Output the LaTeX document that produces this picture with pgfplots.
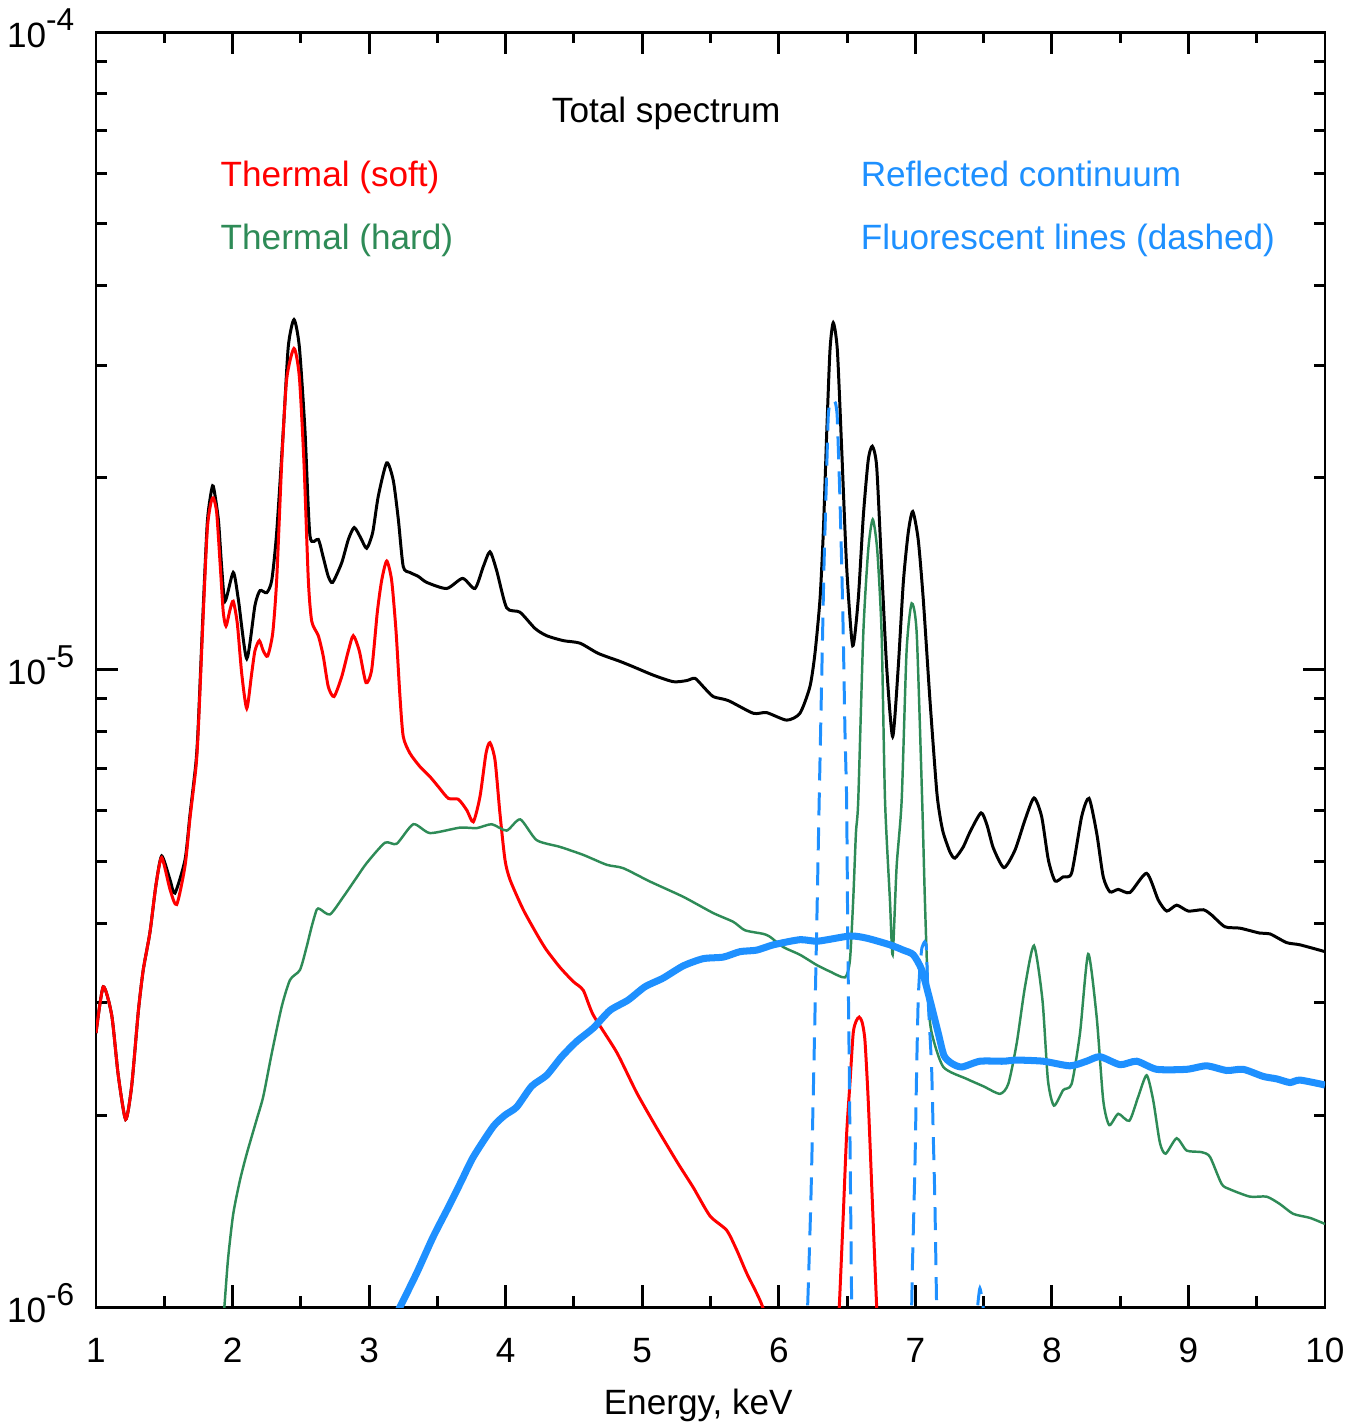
\documentclass[border=0pt]{standalone}
\usepackage{fontspec}
\setmainfont{Liberation Sans}
\usepackage{pgfplots}
\pgfplotsset{compat=1.18}
\definecolor{thgreen}{RGB}{46,139,87}
\definecolor{refblue}{RGB}{30,144,255}
\newcommand{\tensup}[1]{10\raisebox{4.8pt}{\fontsize{9}{10}\selectfont -#1}}
\begin{document}
\begin{tikzpicture}
\path[use as bounding box] (-9.6mm,-11.6mm) rectangle (126.6mm,130.7mm);
\begin{axis}[
  scale only axis, width=122.9mm, height=127.5mm,
  xmin=1, xmax=10, ymin=1e-6, ymax=1e-4, ymode=log,
  xtick={1,...,10}, minor xtick={1.5,2.5,...,9.5},
  ytick={1e-6,1e-5,1e-4},
  yticklabels={\tensup{6},\tensup{5},\tensup{4}},
  minor ytick={2e-6,3e-6,4e-6,5e-6,6e-6,7e-6,8e-6,9e-6,2e-5,3e-5,4e-5,5e-5,6e-5,7e-5,8e-5,9e-5},
  tick align=inside, tick pos=both,
  major tick length=2.2mm, minor tick length=1.1mm,
  every tick/.style={black, line width=0.85pt},
  axis line style={line width=0.85pt},
  /pgf/number format/assume math mode=true,
  tick label style={font=\fontsize{10}{12}\selectfont},
  xticklabel style={anchor=base, inner sep=0pt, yshift=-5.55mm},
  yticklabel style={anchor=base east, inner sep=0pt, xshift=-2.1mm, yshift=-1.5mm},
  xlabel={Energy, keV},
  xlabel style={font=\fontsize{10}{12}\selectfont, at={(axis description cs:0.49,0)}, anchor=base, inner sep=0pt, yshift=-10.75mm},
]
% total spectrum
\addplot[black, line width=0.85pt, smooth, tension=0.4] coordinates {
(1.000,2.69e-6) (1.053,3.18e-6) (1.115,2.87e-6) (1.163,2.31e-6) (1.217,1.97e-6) (1.261,2.22e-6) (1.310,2.91e-6) (1.346,3.38e-6) (1.395,3.87e-6) (1.439,4.59e-6) (1.481,5.10e-6) (1.542,4.68e-6) (1.578,4.46e-6) (1.652,5.03e-6) (1.688,5.91e-6) (1.732,7.15e-6) (1.749,8.2e-6) (1.786,1.26e-5) (1.815,1.70e-5) (1.840,1.88e-5) (1.859,1.94e-5) (1.896,1.72e-5) (1.920,1.45e-5) (1.945,1.28e-5) (2.005,1.42e-5) (2.042,1.29e-5) (2.104,1.04e-5) (2.164,1.26e-5) (2.201,1.33e-5) (2.250,1.32e-5) (2.287,1.38e-5) (2.323,1.64e-5) (2.372,2.38e-5) (2.408,3.21e-5) (2.450,3.54e-5) (2.489,3.21e-5) (2.530,2.38e-5) (2.567,1.62e-5) (2.628,1.60e-5) (2.664,1.50e-5) (2.701,1.40e-5) (2.733,1.37e-5) (2.799,1.47e-5) (2.848,1.60e-5) (2.891,1.67e-5) (2.938,1.61e-5) (2.982,1.55e-5) (3.026,1.64e-5) (3.067,1.87e-5) (3.129,2.11e-5) (3.177,1.98e-5) (3.214,1.72e-5) (3.250,1.45e-5) (3.299,1.42e-5) (3.360,1.40e-5) (3.422,1.37e-5) (3.568,1.34e-5) (3.685,1.39e-5) (3.775,1.34e-5) (3.836,1.45e-5) (3.885,1.53e-5) (3.934,1.43e-5) (4.007,1.25e-5) (4.105,1.23e-5) (4.215,1.16e-5) (4.300,1.13e-5) (4.422,1.11e-5) (4.544,1.10e-5) (4.678,1.06e-5) (4.837,1.03e-5) (4.935,1.01e-5) (5.081,9.80e-6) (5.228,9.57e-6) (5.326,9.61e-6) (5.386,9.69e-6) (5.447,9.40e-6) (5.520,9.07e-6) (5.630,8.94e-6) (5.813,8.54e-6) (5.911,8.56e-6) (6.058,8.33e-6) (6.155,8.54e-6) (6.228,9.40e-6) (6.265,1.06e-5) (6.302,1.29e-5) (6.326,1.64e-5) (6.351,2.35e-5) (6.375,3.17e-5) (6.399,3.50e-5) (6.429,3.17e-5) (6.461,2.21e-5) (6.497,1.45e-5) (6.541,1.09e-5) (6.582,1.29e-5) (6.619,1.74e-5) (6.655,2.13e-5) (6.685,2.24e-5) (6.717,2.08e-5) (6.753,1.45e-5) (6.790,1.01e-5) (6.834,7.85e-6) (6.875,1.01e-5) (6.912,1.37e-5) (6.948,1.64e-5) (6.981,1.77e-5) (7.021,1.60e-5) (7.058,1.29e-5) (7.107,8.96e-6) (7.156,6.47e-6) (7.181,5.88e-6) (7.205,5.54e-6) (7.254,5.17e-6) (7.290,5.06e-6) (7.351,5.27e-6) (7.400,5.56e-6) (7.481,5.96e-6) (7.525,5.70e-6) (7.571,5.25e-6) (7.649,4.89e-6) (7.730,5.21e-6) (7.803,5.81e-6) (7.869,6.29e-6) (7.925,5.88e-6) (7.974,5.03e-6) (8.023,4.66e-6) (8.083,4.73e-6) (8.145,4.80e-6) (8.218,5.88e-6) (8.272,6.28e-6) (8.328,5.54e-6) (8.376,4.73e-6) (8.425,4.48e-6) (8.486,4.52e-6) (8.572,4.47e-6) (8.694,4.79e-6) (8.779,4.35e-6) (8.841,4.18e-6) (8.914,4.27e-6) (8.999,4.18e-6) (9.109,4.20e-6) (9.170,4.12e-6) (9.267,3.95e-6) (9.377,3.93e-6) (9.524,3.86e-6) (9.597,3.85e-6) (9.719,3.73e-6) (9.817,3.70e-6) (10.000,3.61e-6)
};
% thermal soft
\addplot[red, line width=0.85pt, smooth, tension=0.4] coordinates {
(1.000,2.69e-6) (1.053,3.18e-6) (1.115,2.87e-6) (1.163,2.31e-6) (1.217,1.97e-6) (1.261,2.22e-6) (1.310,2.91e-6) (1.346,3.38e-6) (1.395,3.87e-6) (1.439,4.59e-6) (1.481,5.07e-6) (1.542,4.52e-6) (1.591,4.28e-6) (1.652,4.92e-6) (1.688,5.84e-6) (1.732,7.03e-6) (1.749,8.04e-6) (1.786,1.23e-5) (1.815,1.66e-5) (1.840,1.82e-5) (1.859,1.86e-5) (1.884,1.76e-5) (1.913,1.42e-5) (1.932,1.23e-5) (1.952,1.17e-5) (1.981,1.24e-5) (2.005,1.28e-5) (2.035,1.18e-5) (2.067,9.86e-6) (2.104,8.69e-6) (2.140,9.86e-6) (2.164,1.07e-5) (2.196,1.11e-5) (2.225,1.07e-5) (2.257,1.05e-5) (2.294,1.14e-5) (2.323,1.38e-5) (2.360,2.11e-5) (2.396,2.85e-5) (2.450,3.19e-5) (2.489,2.88e-5) (2.523,2.11e-5) (2.555,1.38e-5) (2.580,1.19e-5) (2.628,1.13e-5) (2.664,1.05e-5) (2.701,9.40e-6) (2.743,9.07e-6) (2.799,9.74e-6) (2.848,1.07e-5) (2.884,1.13e-5) (2.928,1.07e-5) (2.977,9.54e-6) (3.019,1.00e-5) (3.060,1.23e-5) (3.092,1.38e-5) (3.129,1.48e-5) (3.165,1.38e-5) (3.197,1.15e-5) (3.226,9.07e-6) (3.250,7.85e-6) (3.299,7.39e-6) (3.373,7.04e-6) (3.446,6.79e-6) (3.507,6.55e-6) (3.580,6.28e-6) (3.653,6.26e-6) (3.715,6.02e-6) (3.763,5.77e-6) (3.812,6.32e-6) (3.856,7.39e-6) (3.885,7.68e-6) (3.922,7.21e-6) (3.958,5.95e-6) (3.995,5.03e-6) (4.032,4.68e-6) (4.129,4.20e-6) (4.239,3.81e-6) (4.300,3.63e-6) (4.398,3.41e-6) (4.495,3.24e-6) (4.568,3.14e-6) (4.642,2.87e-6) (4.813,2.51e-6) (4.959,2.17e-6) (5.106,1.91e-6) (5.262,1.68e-6) (5.374,1.54e-6) (5.496,1.39e-6) (5.618,1.32e-6) (5.691,1.23e-6) (5.765,1.13e-6) (5.882,1.00e-6) (5.950,8.5e-7)
};
\addplot[red, line width=0.85pt, smooth, tension=0.4] coordinates {
(6.430,9.0e-7) (6.443,1.0e-6) (6.472,1.39e-6) (6.497,1.87e-6) (6.521,2.24e-6) (6.545,2.69e-6) (6.567,2.81e-6) (6.589,2.85e-6) (6.610,2.80e-6) (6.631,2.62e-6) (6.655,2.11e-6) (6.680,1.56e-6) (6.717,1.0e-6) (6.730,9.0e-7)
};
% thermal hard
\addplot[thgreen, line width=0.7pt, smooth, tension=0.4] coordinates {
(1.915,8.56e-7) (1.940,1.00e-6) (1.967,1.19e-6) (2.005,1.40e-6) (2.054,1.58e-6) (2.104,1.74e-6) (2.177,1.97e-6) (2.225,2.14e-6) (2.287,2.50e-6) (2.360,2.96e-6) (2.421,3.26e-6) (2.494,3.38e-6) (2.542,3.67e-6) (2.579,3.95e-6) (2.616,4.20e-6) (2.640,4.21e-6) (2.714,4.13e-6) (2.811,4.40e-6) (2.909,4.72e-6) (2.982,4.97e-6) (3.116,5.35e-6) (3.202,5.33e-6) (3.324,5.72e-6) (3.446,5.54e-6) (3.665,5.65e-6) (3.788,5.64e-6) (3.898,5.72e-6) (4.007,5.59e-6) (4.107,5.82e-6) (4.227,5.40e-6) (4.398,5.27e-6) (4.568,5.12e-6) (4.740,4.94e-6) (4.861,4.88e-6) (5.057,4.65e-6) (5.301,4.40e-6) (5.520,4.15e-6) (5.667,4.02e-6) (5.752,3.90e-6) (5.886,3.85e-6) (5.935,3.81e-6) (6.033,3.67e-6) (6.155,3.57e-6) (6.278,3.44e-6) (6.375,3.36e-6) (6.485,3.29e-6) (6.521,3.50e-6) (6.545,4.35e-6) (6.565,5.54e-6) (6.582,6.24e-6) (6.619,1.14e-5) (6.655,1.54e-5) (6.688,1.72e-5) (6.721,1.54e-5) (6.753,1.14e-5) (6.778,6.24e-6) (6.814,4.35e-6) (6.834,3.57e-6) (6.863,4.91e-6) (6.900,6.24e-6) (6.936,1.07e-5) (6.973,1.27e-5) (7.010,1.14e-5) (7.050,6.24e-6) (7.070,4.35e-6) (7.095,3.03e-6) (7.120,2.69e-6) (7.205,2.38e-6) (7.376,2.28e-6) (7.498,2.22e-6) (7.620,2.16e-6) (7.681,2.24e-6) (7.742,2.59e-6) (7.803,3.18e-6) (7.869,3.69e-6) (7.931,3.03e-6) (7.971,2.27e-6) (8.015,2.07e-6) (8.083,2.19e-6) (8.145,2.24e-6) (8.206,2.69e-6) (8.266,3.58e-6) (8.328,2.85e-6) (8.376,2.11e-6) (8.420,1.93e-6) (8.486,2.01e-6) (8.567,1.96e-6) (8.633,2.14e-6) (8.694,2.31e-6) (8.742,2.11e-6) (8.791,1.81e-6) (8.833,1.74e-6) (8.914,1.84e-6) (8.987,1.76e-6) (9.097,1.75e-6) (9.158,1.72e-6) (9.243,1.56e-6) (9.304,1.53e-6) (9.451,1.49e-6) (9.573,1.49e-6) (9.671,1.45e-6) (9.768,1.40e-6) (9.890,1.38e-6) (10.000,1.35e-6)
};
% reflected continuum
\addplot[refblue, line width=2pt, smooth, tension=0.4] coordinates {
(3.140,9.2e-7) (3.226,1.00e-6) (3.348,1.13e-6) (3.470,1.29e-6) (3.592,1.45e-6) (3.678,1.58e-6) (3.763,1.72e-6) (3.909,1.92e-6) (3.995,2.00e-6) (4.081,2.06e-6) (4.190,2.22e-6) (4.300,2.31e-6) (4.410,2.47e-6) (4.520,2.61e-6) (4.642,2.74e-6) (4.764,2.92e-6) (4.896,3.03e-6) (5.020,3.18e-6) (5.152,3.28e-6) (5.301,3.43e-6) (5.447,3.52e-6) (5.594,3.54e-6) (5.716,3.61e-6) (5.838,3.63e-6) (5.960,3.70e-6) (6.155,3.77e-6) (6.287,3.75e-6) (6.521,3.82e-6) (6.644,3.79e-6) (6.814,3.70e-6) (6.912,3.63e-6) (6.985,3.57e-6) (7.047,3.38e-6) (7.107,3.03e-6) (7.166,2.70e-6) (7.210,2.48e-6) (7.268,2.41e-6) (7.341,2.38e-6) (7.473,2.43e-6) (7.644,2.43e-6) (7.742,2.44e-6) (7.937,2.43e-6) (8.132,2.39e-6) (8.254,2.43e-6) (8.352,2.47e-6) (8.499,2.40e-6) (8.621,2.43e-6) (8.767,2.36e-6) (8.987,2.36e-6) (9.133,2.39e-6) (9.280,2.35e-6) (9.401,2.36e-6) (9.548,2.30e-6) (9.646,2.28e-6) (9.743,2.25e-6) (9.817,2.27e-6) (10.000,2.23e-6)
};
% fluorescent lines
\addplot[refblue, line width=0.85pt, dash pattern=on 2.3mm off 1.2mm, smooth, tension=0.3] coordinates {
(6.192,8.87e-7) (6.211,1.0e-6) (6.235,1.47e-6) (6.257,2.38e-6) (6.277,3.86e-6) (6.296,6.24e-6) (6.306,7.94e-6) (6.321,1.14e-5) (6.331,1.45e-5) (6.345,1.85e-5) (6.362,2.49e-5) (6.375,2.62e-5) (6.394,2.65e-5) (6.415,2.62e-5) (6.428,2.49e-5) (6.448,1.85e-5) (6.461,1.45e-5) (6.472,1.14e-5) (6.485,7.94e-6) (6.497,6.24e-6) (6.505,3.86e-6) (6.516,2.38e-6) (6.526,1.47e-6) (6.534,1.0e-6) (6.540,8.87e-7)
};
\addplot[refblue, line width=0.85pt, dash pattern=on 2.3mm off 1.2mm, smooth, tension=0.3] coordinates {
(6.964,8.87e-7) (6.973,1.0e-6) (6.980,1.19e-6) (6.997,1.66e-6) (7.010,2.38e-6) (7.021,3.03e-6) (7.034,3.42e-6) (7.048,3.66e-6) (7.068,3.74e-6) (7.081,3.66e-6) (7.094,3.03e-6) (7.119,2.38e-6) (7.131,1.87e-6) (7.143,1.47e-6) (7.156,1.0e-6) (7.162,8.87e-7)
};
\addplot[refblue, line width=0.85pt, dash pattern=on 2.3mm off 1.2mm, smooth, tension=0.3] coordinates {
(7.448,8.87e-7) (7.456,1.0e-6) (7.473,1.07e-6) (7.497,1.0e-6) (7.506,8.87e-7)
};
\node[font=\fontsize{10}{12}\selectfont, anchor=base, inner sep=0pt] at (rel axis cs:0.464,0.929) {Total spectrum};
\node[font=\fontsize{10}{12}\selectfont, anchor=base west, inner sep=0pt, text=red] at (rel axis cs:0.1009,0.8788) {Thermal (soft)};
\node[font=\fontsize{10}{12}\selectfont, anchor=base west, inner sep=0pt, text=thgreen] at (rel axis cs:0.1009,0.8294) {Thermal (hard)};
\node[font=\fontsize{10}{12}\selectfont, anchor=base west, inner sep=0pt, text=refblue] at (rel axis cs:0.6217,0.8788) {Reflected continuum};
\node[font=\fontsize{10}{12}\selectfont, anchor=base west, inner sep=0pt, text=refblue] at (rel axis cs:0.6217,0.8294) {Fluorescent lines (dashed)};
\end{axis}
\end{tikzpicture}
\end{document}
